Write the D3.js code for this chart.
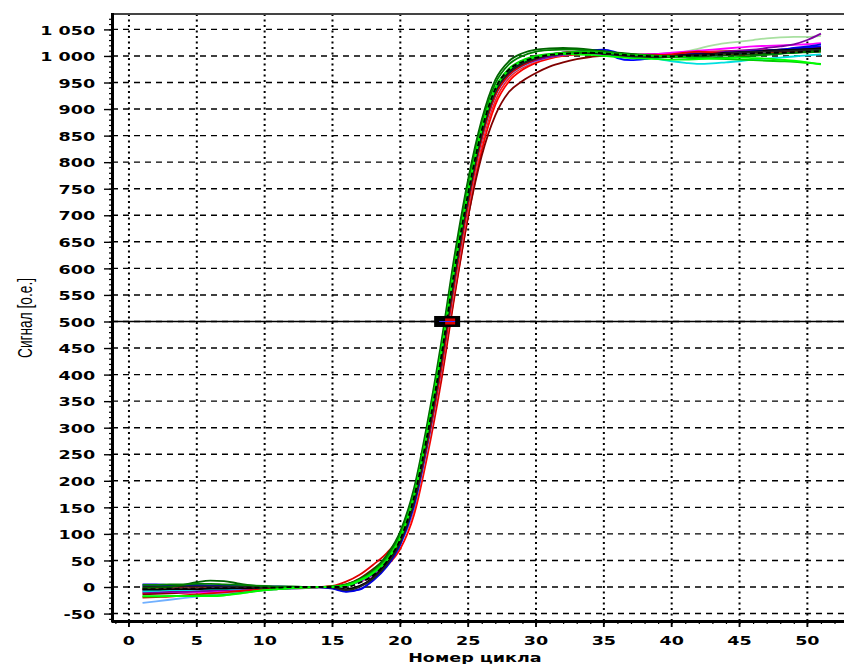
<!DOCTYPE html>
<html>
<head>
<meta charset="utf-8">
<script src="https://cdn.jsdelivr.net/npm/d3@7"></script>
<style>
body { margin: 0; background: #fff; }
svg { display: block; }
.lbl { font-family: "DejaVu Sans", Verdana, sans-serif; font-weight: bold; font-size: 13px; fill: #000; }
</style>
</head>
<body>
<div id="chart"></div>
<script>
// Amplification curves (signal vs cycle number)

// Geometry variables
var width = 844,
    height = 664;

var margin = {top: 14, right: 0, bottom: 43, left: 112};

// Axis values and labels
var cycles = [1,2,3,4,5,6,7,8,9,10,11,12,13,14,15,16,17,18,19,20,21,22,23,24,25,26,
  27,28,29,30,31,32,33,34,35,36,37,38,39,40,41,42,43,44,45,46,47,48,49,50,51];

var xTicks = [0,5,10,15,20,25,30,35,40,45,50];
var xLabels = ['0','5','10','15','20','25','30','35','40','45','50'];

var yTicks = [-50,0,50,100,150,200,250,300,350,400,450,500,550,600,650,700,750,800,850,900,950,1000,1050];
var yLabels = ['-50','0','50','100','150','200','250','300','350','400','450','500','550','600',
  '650','700','750','800','850','900','950','1 000','1 050'];

var threshold = 500,
    thresholdCt = 23.45;

// Series (one array per well, cycles 1..51)
var s1 = [-12,-11,-10,-9,-8,-7,-6,-5,-4,-3,-2,-1,0,0,1,
  3,10,20,40,72,135,248,385,548,698,822,908,952,974,987,995,
  1000,1003,1004,1003,1001,999,1000,1001,1003,1005,1006,1004,1003,1005,1007,1009,1010,1012,1014,1016];
var s2 = [-18,-18,-17,-17,-16,-16,-15,-12,-9,-6,-4,-2,-1,0,1,
  4,13,28,52,95,172,295,440,605,748,865,940,976,992,1000,1004,
  1006,1008,1008,1006,1004,1002,1001,1000,999,998,996,995,994,993,992,991,990,989,987,985];
var s3 = [2,3,3,2,2,1,1,0,0,0,0,0,0,0,-2,
  -8,-5,14,42,85,158,275,418,585,732,852,932,968,984,995,1002,
  1006,1008,1010,1009,996,992,994,998,1000,1002,1004,1005,1006,1006,1008,1010,1012,1014,1016,1018];
var s4 = [-5,-5,-4,-4,-4,-3,-3,-2,-2,-1,-1,0,0,0,0,
  -4,2,18,45,88,162,282,425,590,735,855,935,970,986,996,1002,
  1004,1005,1006,1004,1002,1000,999,998,1000,1002,1003,1004,1006,1007,1008,1010,1011,1012,1013,1014];
var s5 = [-2,-1,0,4,9,12,11,7,3,1,0,0,0,0,1,
  5,15,32,60,105,185,310,458,625,768,880,955,990,1005,1012,1014,
  1015,1014,1012,1009,1006,1004,1002,1000,999,998,999,1000,1001,1002,1003,1004,1005,1006,1008,1010];
var s6 = [-8,-7,-6,-6,-5,-4,-4,-3,-2,-2,-1,-1,0,0,0,
  2,12,26,50,90,165,285,428,592,738,858,936,972,988,997,1003,
  1006,1007,1008,1006,1003,1001,998,994,990,987,985,986,988,990,993,995,997,999,1001,1003];
var s7 = [-7,-8,-9,-10,-10,-9,-8,-6,-4,-3,-2,-1,-1,0,0,
  3,11,24,47,86,158,276,420,584,730,850,930,967,984,994,1000,
  1003,1004,1005,1004,1003,1002,1003,1004,1006,1008,1010,1012,1014,1016,1018,1019,1020,1021,1022,1024];
var s8 = [-10,-10,-9,-9,-8,-7,-6,-5,-4,-3,-2,-2,-1,0,0,
  2,11,24,46,84,155,272,415,580,726,846,926,964,982,992,998,
  1002,1004,1005,1004,1002,1000,999,1000,1002,1004,1005,1006,1008,1010,1012,1015,1018,1022,1030,1042];
var s9 = [-30,-27,-24,-21,-18,-15,-12,-10,-8,-6,-4,-3,-2,-1,0,
  2,10,22,44,80,150,265,408,572,720,842,924,962,980,991,998,
  1002,1004,1004,1003,1002,1001,1000,999,998,998,999,1000,1002,1004,1006,1008,1009,1010,1011,1012];
var s10 = [-14,-13,-12,-11,-10,-9,-8,-7,-6,-5,-4,-3,-2,-1,0,
  4,16,34,55,88,150,258,392,552,698,812,888,932,953,968,980,
  988,994,998,1000,1001,1002,1003,1004,1005,1006,1007,1008,1009,1010,1010,1011,1012,1013,1014,1015];
var s11 = [-20,-19,-18,-16,-14,-12,-10,-8,-6,-4,-3,-2,-1,0,2,
  10,23,42,64,96,160,272,410,575,722,845,926,964,982,994,1002,
  1006,1008,1008,1007,1005,1003,1002,1002,1003,1006,1008,1006,1004,1002,1003,1005,1007,1009,1011,1013];
var s12 = [-17,-17,-17,-17,-17,-17,-16,-13,-9,-6,-4,-2,-1,0,0,
  2,12,26,50,92,170,292,438,602,745,862,938,974,990,998,1002,
  1004,1003,1002,1000,998,996,995,994,993,993,994,995,996,997,996,995,993,991,988,984];
var s13 = [5,5,4,4,4,3,3,2,2,1,1,0,0,0,-3,
  -9,-4,12,38,80,152,270,412,578,726,848,928,966,983,994,1001,
  1005,1008,1011,1012,1006,998,996,997,999,1001,1003,1004,1005,1007,1009,1010,1012,1015,1018,1022];
var s14 = [0,0,1,1,1,1,1,0,0,0,0,0,0,0,-1,
  -6,0,16,42,84,158,278,422,586,732,852,932,968,985,995,1001,
  1004,1006,1007,1005,1002,999,998,998,999,1001,1002,1003,1005,1006,1007,1008,1009,1010,1011,1012];
var s15 = [4,4,5,5,6,6,5,4,3,2,1,1,0,0,0,
  4,14,30,56,100,178,302,448,614,758,872,948,984,1000,1008,1011,
  1012,1012,1010,1008,1005,1003,1001,999,998,997,996,996,997,998,1000,1002,1004,1006,1007,1008];
var s16 = [-6,-5,-5,-4,-4,-3,-3,-2,-2,-1,-1,0,0,0,0,
  3,12,25,48,88,162,280,424,588,734,854,934,970,987,996,1002,
  1005,1006,1006,1005,1004,1003,1002,1002,1004,1008,1014,1020,1024,1027,1030,1033,1035,1036,1036,1038];
var s17 = [-3,-3,-2,-2,-2,-1,-1,-1,0,0,0,0,0,0,1,
  5,14,28,50,82,145,258,398,560,710,834,916,958,978,990,997,
  1001,1003,1004,1003,1002,1001,1001,1002,1004,1006,1007,1008,1008,1009,1010,1011,1010,1009,1008,1008];
var s18 = [-4,-4,-3,-3,-3,-2,-2,-2,-1,-1,-1,0,0,0,0,
  0,8,22,48,90,168,288,432,598,742,860,938,974,989,997,1002,
  1004,1005,1006,1005,1003,1001,1000,999,999,1000,1001,1002,1003,1004,1005,1006,1006,1007,1008,1009];

var series = [s1,s10,s17,s9,s16,s7,s8,s6,s3,s13,s11,s4,s14,s5,s15,s2,s12,s18];
var seriesColors = ['#ff0000','#800000','#ff2020','#70b0ff','#a8e0a0','#ff00ff','#8000a0','#00e0e0',
  '#0000ff','#0000e0','#e00000','#000000','#202020','#006400','#008000','#00d000','#00ff00','#000000'];
var seriesDash = [null,null,null,null,null,null,null,null,null,null,null,null,null,null,null,null,null,'5,3'];

// Scales
var x = d3.scaleLinear().domain([-1.25, 52.7]).range([margin.left, width - margin.right]);
var y = d3.scaleLinear().domain([-64, 1079]).range([height - margin.bottom, margin.top]);

var svg = d3.select('#chart').append('svg')
    .attr('width', width)
    .attr('height', height);

// Horizontal grid (dashed)
svg.append('g').selectAll('line')
  .data(yTicks)
  .enter().append('line')
    .attr('x1', margin.left)
    .attr('x2', width)
    .attr('y1', function(d) { return y(d); })
    .attr('y2', function(d) { return y(d); })
    .attr('stroke', '#000')
    .attr('stroke-width', 1.4)
    .attr('stroke-dasharray', '6,5');

// Vertical grid (dotted)
svg.append('g').selectAll('line')
  .data(xTicks)
  .enter().append('line')
    .attr('x1', function(d) { return x(d); })
    .attr('x2', function(d) { return x(d); })
    .attr('y1', margin.top)
    .attr('y2', height - margin.bottom)
    .attr('stroke', '#000')
    .attr('stroke-width', 2)
    .attr('stroke-dasharray', '2,3.5');

// Threshold line
svg.append('line')
    .attr('x1', margin.left)
    .attr('x2', width)
    .attr('y1', y(threshold))
    .attr('y2', y(threshold))
    .attr('stroke', '#000')
    .attr('stroke-width', 1.5);

// Curves
var line = d3.line()
    .x(function(d, i) { return x(cycles[i]); })
    .y(function(d) { return y(d); })
    .curve(d3.curveMonotoneX);

svg.append('g').selectAll('path')
  .data(series)
  .enter().append('path')
    .attr('d', line)
    .attr('fill', 'none')
    .attr('stroke', function(d, i) { return seriesColors[i]; })
    .attr('stroke-width', 1.8)
    .attr('stroke-dasharray', function(d, i) { return seriesDash[i]; });

// Threshold marker
svg.append('rect')
    .attr('x', x(thresholdCt) - 13)
    .attr('y', y(threshold) - 5.5)
    .attr('width', 26)
    .attr('height', 11)
    .attr('fill', '#000');
svg.append('rect')
    .attr('x', x(thresholdCt) - 2)
    .attr('y', y(threshold) - 3)
    .attr('width', 10)
    .attr('height', 6)
    .attr('fill', '#e00000');
svg.append('line')
    .attr('x1', x(thresholdCt) - 8)
    .attr('x2', x(thresholdCt) + 8)
    .attr('y1', y(threshold))
    .attr('y2', y(threshold))
    .attr('stroke', '#3030ff')
    .attr('stroke-width', 1);

// Y axis
var yMinor = d3.range(-60, 1080, 10);
svg.append('g')
    .attr('transform', 'translate(' + margin.left + ',0)')
    .call(d3.axisLeft(y).tickValues(yMinor).tickSize(3).tickFormat(''))
    .call(function(g) { g.select('.domain').remove(); })
    .selectAll('line').attr('stroke-width', 1.2);

var yAxis = svg.append('g')
    .attr('transform', 'translate(' + margin.left + ',0)')
    .call(d3.axisLeft(y).tickValues(yTicks).tickSize(8)
      .tickFormat(function(d, i) { return yLabels[i]; }));
yAxis.select('.domain').remove();
yAxis.selectAll('line').attr('stroke-width', 1.4);
yAxis.selectAll('text')
    .attr('class', 'lbl')
    .attr('x', -12.5)
    .attr('dy', '0.36em')
    .attr('transform', 'scale(1.35,1)');

// X axis
var xMinor = d3.range(-1, 53, 1);
svg.append('g')
    .attr('transform', 'translate(0,' + (height - margin.bottom) + ')')
    .call(d3.axisBottom(x).tickValues(xMinor).tickSize(3).tickFormat(''))
    .call(function(g) { g.select('.domain').remove(); })
    .selectAll('line').attr('stroke-width', 1.2);

var xAxis = svg.append('g')
    .attr('transform', 'translate(0,' + (height - margin.bottom) + ')')
    .call(d3.axisBottom(x).tickValues(xTicks).tickSize(6)
      .tickFormat(function(d, i) { return xLabels[i]; }));
xAxis.select('.domain').remove();
xAxis.selectAll('line').attr('stroke-width', 1.4);
xAxis.selectAll('.tick')
    .each(function(d) {
      d3.select(this).attr('transform', 'translate(' + x(d) + ',0) scale(1.35,1)');
    });
xAxis.selectAll('text')
    .attr('class', 'lbl')
    .attr('y', 15);

// Frame
svg.append('line')
    .attr('x1', margin.left).attr('x2', width)
    .attr('y1', margin.top).attr('y2', margin.top)
    .attr('stroke', '#444').attr('stroke-width', 2);
svg.append('line')
    .attr('x1', margin.left + 0.5).attr('x2', margin.left + 0.5)
    .attr('y1', margin.top - 1).attr('y2', height - margin.bottom + 1.5)
    .attr('stroke', '#000').attr('stroke-width', 3);
svg.append('line')
    .attr('x1', margin.left).attr('x2', width)
    .attr('y1', height - margin.bottom + 0.5).attr('y2', height - margin.bottom + 0.5)
    .attr('stroke', '#000').attr('stroke-width', 3);

// Axis titles
svg.append('text')
    .attr('class', 'lbl')
    .attr('text-anchor', 'middle')
    .attr('transform', 'translate(' + x(25.5) + ',662) scale(1.35,1)')
    .text('Номер цикла');

svg.append('text')
    .attr('text-anchor', 'middle')
    .attr('transform', 'translate(32,318) scale(1.35,1) rotate(-90)')
    .style('font-family', '"Liberation Sans", Arial, sans-serif')
    .style('font-size', '15px')
    .attr('textLength', 80)
    .attr('lengthAdjust', 'spacingAndGlyphs')
    .text('Сигнал [о.е.]');
</script>
</body>
</html>
